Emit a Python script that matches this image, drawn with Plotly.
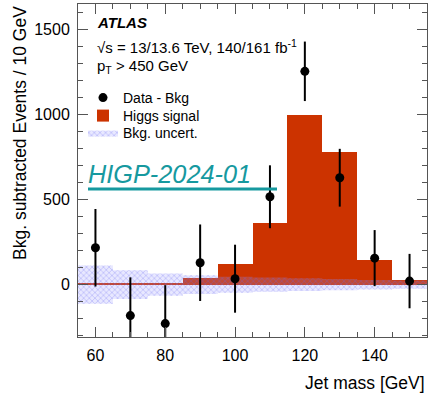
import numpy as np
import plotly.graph_objects as go

# ---- data ----
bin_centers = [60, 70, 80, 90, 100, 110, 120, 130, 140, 150]
bin_edges = [55, 65, 75, 85, 95, 105, 115, 125, 135, 145, 155]
data_minus_bkg = [217, -182, -229, 129, 35, 517, 1255, 629, 156, 21]
data_err = [228, 225, 226, 225, 200, 185, 175, 170, 165, 160]
higgs_signal = [4, 5, 12, 37, 119, 364, 1000, 781, 143, 26]
bkg_uncert = [112, 85, 65, 55, 47, 42, 38, 33, 28, 24]

FONT = "Liberation Sans, Arial, Helvetica, sans-serif"
RED = "#cc3300"
AXC = "#555555"
L, R, T, B = 78, 7, 4, 64
W, H = 434, 401
PW, PH = W - L - R, H - T - B


def px(xp):
    return (xp - L) / PW


def py(yp):
    return (H - B - yp) / PH


fig = go.Figure()

fig.add_trace(go.Bar(
    x=bin_centers, y=higgs_signal, width=10,
    marker=dict(color=RED, line=dict(width=0)),
    name="Higgs signal", legend="legend2",
))

band_hi = list(bkg_uncert) + [bkg_uncert[-1]]
band_lo = list(-np.array(band_hi))
fig.add_trace(go.Scatter(
    x=bin_edges, y=band_lo, mode="lines", line=dict(width=0, shape="hv"),
    showlegend=False, hoverinfo="skip",
))
fig.add_trace(go.Scatter(
    x=bin_edges, y=band_hi, mode="lines", line=dict(width=0, shape="hv"),
    fill="tonexty", fillcolor="rgba(150,150,255,0.22)",
    fillpattern=dict(shape="x", size=4, solidity=0.35,
                     fgcolor="rgba(100,100,240,0.7)", fillmode="overlay"),
    name="Bkg. uncert.", legend="legend3",
))

fig.add_trace(go.Scatter(
    x=bin_centers, y=data_minus_bkg, mode="markers",
    marker=dict(color="black", size=9),
    error_y=dict(type="data", array=data_err, thickness=2, width=0, color="black"),
    name="Data - Bkg", legend="legend",
))

leg_common = dict(xanchor="left", yanchor="middle", font=dict(size=14),
                  bgcolor="rgba(0,0,0,0)", traceorder="normal")
fig.update_layout(
    width=W, height=H,
    margin=dict(l=L, r=R, t=T, b=B),
    paper_bgcolor="white", plot_bgcolor="white",
    font=dict(family=FONT, size=16, color="black"),
    bargap=0,
    legend=dict(x=px(83), y=py(98), **leg_common),
    legend2=dict(x=px(83), y=py(116), **leg_common),
    legend3=dict(x=px(83), y=py(133), **leg_common),
)

fig.update_xaxes(
    range=[55, 155], showgrid=False, zeroline=False,
    showline=True, linecolor=AXC, linewidth=1, mirror="allticks",
    ticks="inside", ticklen=10, tickcolor=AXC, dtick=20, tick0=0,
    minor=dict(ticks="inside", ticklen=5, dtick=5, tickcolor=AXC),
    tickfont=dict(size=16), ticklabelstandoff=4,
)
fig.update_yaxes(
    range=[-308, 1651], showgrid=False, zeroline=False,
    showline=True, linecolor=AXC, linewidth=1, mirror="allticks",
    ticks="inside", ticklen=10, tickcolor=AXC, dtick=500, tick0=0,
    minor=dict(ticks="inside", ticklen=5, dtick=100, tickcolor=AXC),
    tickfont=dict(size=16), ticklabelstandoff=4,
)

txt = [
    ("<b><i>ATLAS</i></b>", 22),
    ("√s = 13/13.6 TeV, 140/161 fb<sup>-1</sup>", 46),
    ("p<sub>T</sub> > 450 GeV", 67),
]
annotations = []
for t, ypx in txt:
    annotations.append(dict(
        text=t, xref="paper", yref="paper",
        x=px(95), y=py(ypx),
        xanchor="left", yanchor="middle", showarrow=False,
        font=dict(size=15, family=FONT, color="black"),
    ))
annotations.append(dict(
    text="<i>HIGP-2024-01</i>", xref="paper", yref="paper",
    x=px(86), y=py(174),
    xanchor="left", yanchor="middle", showarrow=False,
    font=dict(size=25.3, family=FONT, color="#16999f"),
))
annotations.append(dict(
    text="Bkg. subtracted Events / 10 GeV", xref="paper", yref="paper",
    x=px(20), y=py(4), textangle=-90,
    xanchor="center", yanchor="top", showarrow=False,
    font=dict(size=17.5, family=FONT, color="black"),
))
annotations.append(dict(
    text="Jet mass [GeV]", xref="paper", yref="paper",
    x=1.0, y=py(383),
    xanchor="right", yanchor="middle", showarrow=False,
    font=dict(size=17.5, family=FONT, color="black"),
))
fig.update_layout(annotations=annotations)

fig.add_shape(type="line", xref="paper", yref="paper",
              x0=px(88), x1=px(277), y0=py(189), y1=py(189),
              line=dict(color="#16999f", width=3))

fig.write_html("out.html", config={"displayModeBar": False},
               post_script="document.body.style.margin='0px';")
